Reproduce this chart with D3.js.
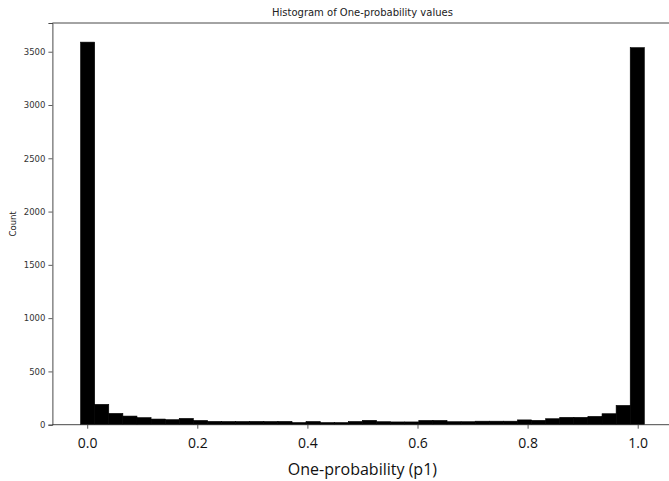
<!DOCTYPE html>
<html>
<head>
<meta charset="utf-8">
<script src="https://cdn.jsdelivr.net/npm/d3@7"></script>
<style>
html,body{margin:0;padding:0;background:#fff;overflow:hidden;}
svg{display:block;}
</style>
</head>
<body>
<svg id="chart" width="669" height="481"></svg>
<script>
// ---- data ----
const binStart = -0.012;
const binEnd = 1.012;
const counts = [3590, 191, 106, 81, 66, 53, 47, 59, 40, 31,
                30, 30, 31, 30, 31, 20, 30, 20, 20, 30,
                41, 28, 26, 26, 40, 40, 28, 28, 33, 33,
                33, 45, 41, 56, 69, 69, 78, 103, 181, 3538];
const xTicks = [0.0, 0.2, 0.4, 0.6, 0.8, 1.0];
const yTicks = [0, 500, 1000, 1500, 2000, 2500, 3000, 3500];
const title = "Histogram of One-probability values";
const xLabel = "One-probability (p1)";
const yLabel = "Count";

const W = 669;
const svg = d3.select("#chart");
const nb = counts.length;
const bw = (binEnd - binStart) / nb;
const bins = counts.map((c, i) => ({x0: binStart + i * bw, x1: binStart + (i + 1) * bw, c}));

const pad = (binEnd - binStart) * 0.05;
const x = d3.scaleLinear().domain([binStart - pad, binEnd + pad]).range([52.4, 672.5]);
const ymax = d3.max(counts) * 1.05;
const y = d3.scaleLinear().domain([0, ymax]).range([424.7, 23]);

// bars
svg.append("g").selectAll("rect").data(bins).join("rect")
  .attr("x", d => x(d.x0))
  .attr("y", d => y(d.c))
  .attr("width", d => x(d.x1) - x(d.x0))
  .attr("height", d => y(0) - y(d.c))
  .attr("fill", "#000")
  .attr("stroke", "#000")
  .attr("stroke-width", 0.6);

// spines (right spine falls outside the visible area)
const [xl, xr] = x.range();
const [yb, yt] = y.range();
const xEnd = Math.min(xr, W);
svg.append("line").attr("x1", xl).attr("x2", xEnd).attr("y1", yt).attr("y2", yt).attr("stroke", "#333").attr("stroke-width", 0.9);
svg.append("line").attr("x1", xl).attr("x2", xEnd).attr("y1", yb).attr("y2", yb).attr("stroke", "#333").attr("stroke-width", 0.9);

// y axis
const yAxis = d3.axisLeft(y).tickValues(yTicks).tickSize(4).tickPadding(3).tickFormat(d3.format("d"));
const gy = svg.append("g").attr("transform", `translate(${xl},0)`).call(yAxis);
gy.select(".domain").attr("stroke", "#333").attr("stroke-width", 0.9);
gy.selectAll(".tick line").attr("stroke", "#333").attr("stroke-width", 0.8);
gy.selectAll("text").attr("font-family", "DejaVu Sans, sans-serif").attr("font-size", 8.5).attr("fill", "#333");

// x axis
const xAxis = d3.axisBottom(x).tickValues(xTicks).tickSize(4).tickPadding(9).tickFormat(d3.format(".1f"));
const gx = svg.append("g").attr("transform", `translate(0,${yb})`).call(xAxis);
gx.select(".domain").remove();
gx.selectAll(".tick line").attr("stroke", "#333").attr("stroke-width", 0.8);
gx.selectAll("text").attr("font-family", "Open Sans, sans-serif").attr("font-size", 14).attr("fill", "#111");

// title
svg.append("text").attr("x", (xl + xr) / 2).attr("y", 16).attr("text-anchor", "middle")
  .attr("font-family", "DejaVu Sans, sans-serif").attr("font-size", 10).attr("fill", "#222").text(title);

// x label
svg.append("text").attr("x", (x(0) + x(1)) / 2).attr("y", 475).attr("text-anchor", "middle")
  .attr("font-family", "Open Sans, sans-serif").attr("font-size", 16).attr("fill", "#111").text(xLabel);

// y label
svg.append("text").attr("transform", `translate(16,${(yt + yb) / 2}) rotate(-90)`).attr("text-anchor", "middle")
  .attr("font-family", "DejaVu Sans, sans-serif").attr("font-size", 8.5).attr("fill", "#222").text(yLabel);
</script>
</body>
</html>
